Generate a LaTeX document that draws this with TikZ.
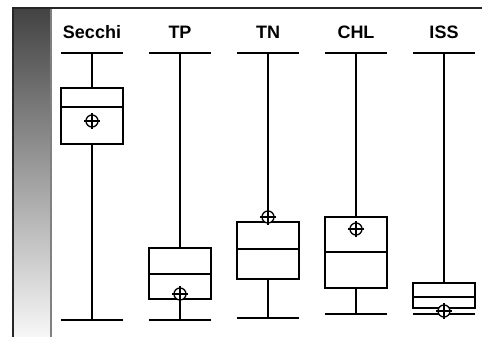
\documentclass[tikz,border=0pt]{standalone}
\usepackage{fontspec}
\setmainfont{Liberation Sans}
\begin{document}
\begin{tikzpicture}[x=1pt,y=-1pt,
  bp/.style={line width=1.3pt,black},
  lab/.style={font=\bfseries\fontsize{18}{20}\selectfont,anchor=base}]
\useasboundingbox (0,0) rectangle (482,337);
\fill[white] (0,0) rectangle (482,337);
% gradient bar
\shade[top color=black!74, bottom color=black!3] (13,8) rectangle (51,337);
\draw[line width=1.5pt,black!85] (13,337) -- (13,8) -- (482,8);
\draw[line width=1.3pt,black!50] (51,9) -- (51,337);
\newcommand\bplt[8]{%
  \draw[bp] (#1-31,#2) -- (#1+31,#2);
  \draw[bp] (#1,#2) -- (#1,#3);
  \draw[bp] (#1-31,#3) rectangle (#1+31,#5);
  \draw[bp] (#1-31,#4) -- (#1+31,#4);
  \draw[bp] (#1,#5) -- (#1,#6);
  \draw[bp] (#1-31,#6) -- (#1+31,#6);
  \fill[white] (#1,#7) circle (6);
  \draw[bp] (#1,#7) circle (6);
  \draw[bp] (#1-8,#7) -- (#1+8,#7) (#1,#7-8) -- (#1,#7+8);
  \node[lab] at (#1,39) {#8};}
\bplt{92}{53}{88}{107}{144}{320}{121}{Secchi}
\bplt{180}{53}{248}{274}{299}{320}{294}{TP}
\bplt{268}{53}{222}{249}{279}{318}{217}{TN}
\bplt{356}{53}{217}{252}{288}{314}{229}{CHL}
\bplt{444}{53}{283}{297}{308}{314}{311}{ISS}
\end{tikzpicture}
\end{document}
